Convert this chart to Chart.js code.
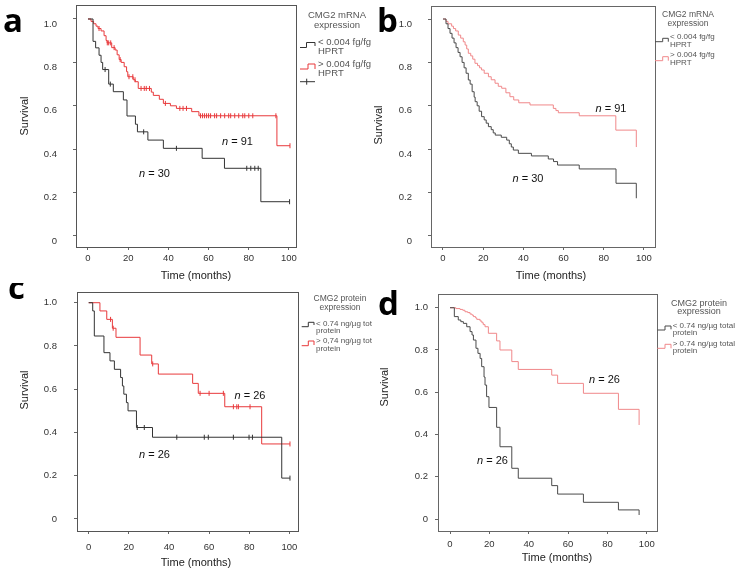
<!DOCTYPE html>
<html><head><meta charset="utf-8">
<script src="https://cdn.jsdelivr.net/npm/chart.js@4/dist/chart.umd.min.js"></script>
<style>
html,body{margin:0;padding:0;background:#fff;width:737px;height:572px;overflow:hidden;position:relative;}
canvas{position:absolute;display:block;}
</style></head><body>
<canvas id="ca" width="372" height="283" style="left:0;top:0;width:372px;height:283px"></canvas>
<canvas id="cb" width="365" height="283" style="left:372px;top:0;width:365px;height:283px"></canvas>
<canvas id="cc" width="372" height="289" style="left:0;top:283px;width:372px;height:289px"></canvas>
<canvas id="cd" width="365" height="289" style="left:372px;top:283px;width:365px;height:289px"></canvas>
<script>
// ---------- shared axis data ----------
const xTicks = [0, 20, 40, 60, 80, 100];
const yTicks = [0, 0.2, 0.4, 0.6, 0.8, 1.0];
const yTickLabels = ['0', '0.2', '0.4', '0.6', '0.8', '1.0'];
const xTitle = 'Time (months)';
const yTitle = 'Survival';

// ---------- panel a : CMG2 mRNA ----------
const aLowT  = [0, 2.5, 3.8, 5.5, 6.5, 7.3, 10.3, 12.6, 17.6, 19.4, 23.6, 24.6, 29.8, 37.5, 56.8, 67.9, 86, 100.3];
const aLowS  = [1, 0.897, 0.867, 0.833, 0.80, 0.767, 0.70, 0.665, 0.627, 0.553, 0.515, 0.48, 0.442, 0.404, 0.358, 0.312, 0.158, 0.158];
const aLowCens = [8.5, 11.1, 27.7, 44, 79, 81, 83, 84.7, 100.3];
const aHighT = [0, 1.5, 2.8, 4, 5, 6.5, 8, 9, 9.5, 11.8, 13.5, 14.5, 15.5, 16.5, 18, 19.2, 19.8, 22.5, 23.5, 25, 31.5, 32.5, 35.5, 37.5, 41, 44, 51.6, 55.2, 94, 100.5];
const aHighS = [1, 0.989, 0.978, 0.967, 0.956, 0.945, 0.923, 0.901, 0.89, 0.868, 0.857, 0.835, 0.813, 0.80, 0.78, 0.757, 0.734, 0.72, 0.711, 0.68, 0.663, 0.648, 0.63, 0.611, 0.60, 0.588, 0.573, 0.554, 0.416, 0.416];
const aHighCens = [5.5, 9.6, 10.3, 11.3, 13, 16, 20.4, 22.3, 23.4, 26.4, 28, 29, 30.6, 38.5, 45.7, 47.3, 49, 56, 57, 58, 59, 60, 61, 63, 64, 66, 68, 70, 71, 73, 75, 77, 78, 80, 82, 93.5, 100.5];
const aN = ['30', '91'];

// ---------- panel b : CMG2 mRNA ----------
const bLowT  = [0, 1.5, 2.5, 3.5, 4.5, 5.5, 6.5, 7.5, 8.5, 9.5, 10.5, 11.5, 12.6, 13.5, 14.5, 15.5, 16, 17, 18, 19.2, 20.5, 21.5, 22.6, 24, 25, 26, 29, 31.7, 33, 34, 35, 37.5, 44, 52.4, 55, 57, 67.8, 86.1, 96.2];
const bLowS  = [1, 0.978, 0.956, 0.934, 0.912, 0.89, 0.868, 0.846, 0.826, 0.80, 0.775, 0.75, 0.719, 0.70, 0.665, 0.64, 0.619, 0.60, 0.575, 0.55, 0.535, 0.52, 0.504, 0.49, 0.475, 0.465, 0.455, 0.442, 0.425, 0.41, 0.396, 0.381, 0.369, 0.355, 0.343, 0.327, 0.309, 0.243, 0.174];
const bHighT = [0, 1.5, 2.5, 4.3, 5.2, 6.3, 7.6, 8.8, 10.1, 11, 11.8, 12.6, 13.8, 14.8, 15.9, 17.2, 18.2, 19.2, 20.5, 22.6, 24, 25.9, 27.5, 29.2, 31.3, 33.3, 35.2, 37.7, 43.3, 54.9, 56.2, 57.4, 67.8, 86, 96.2];
const bHighS = [1, 0.989, 0.978, 0.967, 0.956, 0.945, 0.926, 0.912, 0.895, 0.88, 0.862, 0.842, 0.83, 0.815, 0.796, 0.785, 0.775, 0.765, 0.75, 0.734, 0.72, 0.704, 0.69, 0.681, 0.66, 0.642, 0.627, 0.614, 0.604, 0.588, 0.578, 0.568, 0.554, 0.488, 0.41];
const bN = ['30', '91'];

// ---------- panel c : CMG2 protein ----------
const cLowT  = [0, 2.0, 2.8, 7.6, 10.6, 12.8, 15.9, 16.8, 17.5, 18.8, 19.6, 23.8, 31.8, 96.2, 100.3];
const cLowS  = [1, 0.962, 0.846, 0.769, 0.731, 0.692, 0.654, 0.615, 0.577, 0.538, 0.50, 0.423, 0.378, 0.189, 0.189];
const cLowCens = [24.2, 27.7, 43.9, 57.6, 59.6, 72.1, 79.9, 81.6, 100.3];
const cHighT = [0, 5.6, 9.0, 11.8, 13.6, 25.6, 31.4, 34.7, 51.8, 54.6, 67.8, 86.2, 100.3];
const cHighS = [1, 0.962, 0.923, 0.882, 0.84, 0.758, 0.717, 0.67, 0.627, 0.581, 0.519, 0.347, 0.347];
const cHighCens = [10.9, 12.2, 31.9, 55.5, 60, 67.1, 72.1, 73.8, 74.6, 80.4, 100.3];
const cN = ['26', '26'];

// ---------- panel d : CMG2 protein ----------
const dLowT  = [0, 2.2, 4.2, 5.5, 6.8, 8.5, 10.2, 11.2, 11.9, 13.2, 14.2, 15.3, 16.1, 17.3, 17.8, 18.6, 19.8, 23.7, 25.4, 31.4, 34.7, 51.7, 54.7, 67.8, 85.6, 96.1];
const dLowS  = [1, 0.958, 0.942, 0.934, 0.926, 0.91, 0.887, 0.871, 0.847, 0.808, 0.784, 0.76, 0.721, 0.672, 0.634, 0.579, 0.528, 0.434, 0.342, 0.24, 0.193, 0.158, 0.118, 0.079, 0.043, 0.019];
const dHighT = [0, 3, 5.1, 6.5, 7.6, 9, 10.2, 11.2, 11.9, 13, 13.6, 15.3, 16.2, 16.9, 17.8, 19.5, 23.7, 25.4, 31.4, 34.7, 51.7, 54.7, 67.8, 85.6, 96.1];
const dHighS = [1, 0.996, 0.992, 0.988, 0.981, 0.977, 0.97, 0.965, 0.958, 0.952, 0.945, 0.937, 0.929, 0.92, 0.91, 0.879, 0.843, 0.80, 0.745, 0.708, 0.681, 0.642, 0.595, 0.519, 0.445];
const dN = ['26', '26'];

// ---------- legend texts ----------
const mrnaTitle = ['CMG2 mRNA', 'expression'];
const mrnaLow = ['< 0.004 fg/fg', 'HPRT'];
const mrnaHigh = ['> 0.004 fg/fg', 'HPRT'];
const protTitle = ['CMG2 protein', 'expression'];
const protLowC = ['< 0.74 ng/µg total', 'protein'];
const protHighC = ['> 0,74 ng/µg total', 'protein'];
const protLowD = ['< 0.74 ng/µg total', 'protein'];
const protHighD = ['> 0.74 ng/µg total', 'protein'];

const FONT = '"Liberation Sans", Arial, sans-serif';

function steps(T, S) { return T.map((t, i) => ({x: t, y: S[i]})); }
function survAt(T, S, t) { let s = S[0]; for (let i = 0; i < T.length; i++) { if (T[i] <= t) s = S[i]; } return s; }
function cens(T, S, C) { return C.map(t => ({x: t, y: survAt(T, S, t)})); }

const textPlugin = {
  id: 'panelText',
  afterDraw(chart, args, o) {
    const {ctx, chartArea: ca, scales: {x, y}} = chart;
    const ox = o.offX, oy = o.offY;
    ctx.save();
    // plot frame
    ctx.strokeStyle = o.boxColor; ctx.lineWidth = 1;
    ctx.strokeRect(Math.round(ca.left) + 0.5, Math.round(ca.top) + 0.5, Math.round(ca.right - ca.left), Math.round(ca.bottom - ca.top));
    // panel letter
    ctx.fillStyle = '#000'; ctx.font = 'bold 33px "Open Sans", sans-serif';
    ctx.textAlign = 'left'; ctx.textBaseline = 'alphabetic';
    ctx.fillText(o.letter, o.letterX - ox, o.letterY - oy);
    // axis titles
    ctx.fillStyle = '#222'; ctx.font = '11px ' + FONT; ctx.textAlign = 'center'; ctx.textBaseline = 'middle';
    ctx.fillText(xTitle, o.xTitleX - ox, o.xTitleY - oy);
    ctx.save(); ctx.translate(o.yTitleX - ox, o.yTitleY - oy); ctx.rotate(-Math.PI / 2);
    ctx.fillText(yTitle, 0, 0); ctx.restore();
    // n labels
    o.nLabels.forEach(l => {
      const cx = x.getPixelForValue(l.m), cy = y.getPixelForValue(l.s);
      ctx.font = 'italic 11px ' + FONT; const w1 = ctx.measureText('n').width;
      ctx.font = '11px ' + FONT; const rest = ' = ' + l.v; const w2 = ctx.measureText(rest).width;
      const x0 = cx - (w1 + w2) / 2;
      ctx.textAlign = 'left'; ctx.textBaseline = 'middle'; ctx.fillStyle = '#111';
      ctx.font = 'italic 11px ' + FONT; ctx.fillText('n', x0, cy);
      ctx.font = '11px ' + FONT; ctx.fillText(rest, x0 + w1, cy);
    });
    // legend
    const L = o.legend;
    ctx.fillStyle = '#555'; ctx.textAlign = 'center'; ctx.textBaseline = 'middle';
    ctx.font = L.titleSize + 'px ' + FONT;
    L.title.forEach((t, i) => ctx.fillText(t, L.titleX - ox, L.titleY[i] - oy));
    ctx.textAlign = 'left'; ctx.font = L.itemSize + 'px ' + FONT;
    L.items.forEach(it => {
      ctx.strokeStyle = it.color; ctx.lineWidth = 1; ctx.beginPath();
      it.icon.forEach((p, i) => { const px = p[0] - ox, py = p[1] - oy; if (i) ctx.lineTo(px, py); else ctx.moveTo(px, py); });
      ctx.stroke();
      ctx.fillStyle = '#555';
      it.lines.forEach((t, i) => ctx.fillText(t, it.tx - ox, it.ty[i] - oy));
    });
    if (L.censor) {
      const c = L.censor; ctx.strokeStyle = c.color; ctx.beginPath();
      ctx.moveTo(c.x0 - ox, c.y - oy); ctx.lineTo(c.x1 - ox, c.y - oy);
      ctx.moveTo(c.xm - ox, c.y - 3 - oy); ctx.lineTo(c.xm - ox, c.y + 3 - oy); ctx.stroke();
    }
    ctx.restore();
  }
};

function makePanel(id, P) {
  const datasets = [];
  P.curves.forEach(c => {
    datasets.push({type: 'line', data: steps(c.T, c.S), borderColor: c.color, borderWidth: 1, stepped: true, pointRadius: 0, fill: false});
    if (c.C) datasets.push({type: 'line', showLine: false, data: cens(c.T, c.S, c.C), borderColor: c.color, backgroundColor: c.color, pointStyle: 'line', rotation: 90, pointRadius: 2.5, borderWidth: 1});
  });
  const gridOpt = {display: true, drawOnChartArea: false, drawTicks: true, tickLength: 3, color: '#666', tickColor: '#666'};
  new Chart(document.getElementById(id), {
    type: 'line',
    data: {datasets},
    options: {
      responsive: false, animation: false, events: [],
      layout: {padding: {left: 0, top: P.padTop, right: P.padRight, bottom: 0}},
      plugins: {legend: {display: false}, tooltip: {enabled: false}, panelText: P.text},
      scales: {
        x: {type: 'linear', min: P.xMin, max: P.xMax,
            afterBuildTicks: s => { s.ticks = xTicks.map(v => ({value: v})); },
            afterFit: s => { s.height = P.xH; s.paddingLeft = 0; s.paddingRight = 0; s.paddingTop = 0; s.paddingBottom = 0; },
            grid: gridOpt, border: {display: false},
            ticks: {autoSkip: false, maxRotation: 0, padding: P.xPad, color: '#333', font: {family: FONT, size: 9.5}, callback: v => String(v)}},
        y: {type: 'linear', min: P.yMin, max: P.yMax,
            afterBuildTicks: s => { s.ticks = yTicks.map(v => ({value: v})); },
            afterFit: s => { s.width = P.yW; s.paddingLeft = 0; s.paddingRight = 0; s.paddingTop = 0; s.paddingBottom = 0; },
            grid: gridOpt, border: {display: false},
            ticks: {autoSkip: false, padding: P.yPad, labelOffset: P.yLabOff, color: '#333', font: {family: FONT, size: 9.5}, callback: (v, i) => yTickLabels[i]}}
      }
    },
    plugins: [textPlugin]
  });
}

const BLK = '#333', RED = '#e8393b', BLK2 = '#4a4a4a', PINK = '#f0888a';

makePanel('ca', {
  padTop: 5, padRight: 76, yW: 76, xH: 36, xMin: -5.97, xMax: 103.5, yMin: -0.0507, yMax: 1.0645,
  xPad: 3, yPad: 16, yLabOff: 5,
  curves: [{T: aLowT, S: aLowS, C: aLowCens, color: BLK}, {T: aHighT, S: aHighS, C: aHighCens, color: RED}],
  text: {offX: 0, offY: 0, boxColor: '#555', letter: 'a', letterX: 3, letterY: 32,
    xTitleX: 196, xTitleY: 276, yTitleX: 25, yTitleY: 116,
    nLabels: [{v: aN[0], m: 33.1, s: 0.286}, {v: aN[1], m: 74.4, s: 0.433}],
    legend: {title: mrnaTitle, titleX: 337, titleY: [15.7, 25.5], titleSize: 9.5, itemSize: 9.5,
      items: [
        {color: BLK, icon: [[300, 47.5], [306.5, 47.5], [306.5, 42.5], [315, 42.5], [315, 46]], lines: mrnaLow, tx: 318, ty: [42.7, 51.7]},
        {color: RED, icon: [[300, 69], [308, 69], [308, 64], [315, 64], [315, 69]], lines: mrnaHigh, tx: 318, ty: [64, 73.3]}],
      censor: {color: BLK, x0: 300, x1: 315, xm: 306.7, y: 81.7}}}
});

makePanel('cb', {
  padTop: 6, padRight: 82, yW: 59, xH: 36, xMin: -5.97, xMax: 105.5, yMin: -0.0507, yMax: 1.06,
  xPad: 3, yPad: 16, yLabOff: 5,
  curves: [{T: bLowT, S: bLowS, color: BLK2}, {T: bHighT, S: bHighS, color: PINK}],
  text: {offX: 372, offY: 0, boxColor: '#666', letter: 'b', letterX: 377, letterY: 32,
    xTitleX: 551, xTitleY: 276, yTitleX: 379, yTitleY: 125,
    nLabels: [{v: bN[0], m: 42.3, s: 0.263}, {v: bN[1], m: 83.6, s: 0.585}],
    legend: {title: mrnaTitle, titleX: 688, titleY: [15, 23.3], titleSize: 8.5, itemSize: 8,
      items: [
        {color: BLK2, icon: [[655, 41.7], [662.7, 41.7], [662.7, 38.3], [668.3, 38.3], [668.3, 41.7]], lines: mrnaLow, tx: 670, ty: [37, 45]},
        {color: PINK, icon: [[655, 60.7], [662.7, 60.7], [662.7, 56.7], [668.3, 56.7], [668.3, 60.7]], lines: mrnaHigh, tx: 670, ty: [55, 63]}]}}
});

makePanel('cc', {
  padTop: 9, padRight: 74, yW: 77, xH: 41, xMin: -5.83, xMax: 104.3, yMin: -0.0555, yMax: 1.0495,
  xPad: 7.5, yPad: 17, yLabOff: 0,
  curves: [{T: cLowT, S: cLowS, C: cLowCens, color: BLK}, {T: cHighT, S: cHighS, C: cHighCens, color: RED}],
  text: {offX: 0, offY: 283, boxColor: '#555', letter: 'c', letterX: 8, letterY: 299,
    xTitleX: 196, xTitleY: 563.3, yTitleX: 25, yTitleY: 390,
    nLabels: [{v: cN[0], m: 32.8, s: 0.296}, {v: cN[1], m: 80.4, s: 0.569}],
    legend: {title: protTitle, titleX: 340, titleY: [299, 307.7], titleSize: 8.5, itemSize: 8,
      items: [
        {color: BLK, icon: [[301.7, 326.7], [308.3, 326.7], [308.3, 322.3], [314, 322.3], [314, 325]], lines: protLowC, tx: 316, ty: [324, 330.7]},
        {color: RED, icon: [[301.7, 345.7], [308.3, 345.7], [308.3, 341], [314, 341], [314, 345]], lines: protHighC, tx: 316, ty: [341, 349]}]}}
});

makePanel('cd', {
  padTop: 11, padRight: 80, yW: 66, xH: 41, xMin: -6.1, xMax: 105.2, yMin: -0.0568, yMax: 1.065,
  xPad: 5, yPad: 7, yLabOff: 0,
  curves: [{T: dLowT, S: dLowS, color: BLK2}, {T: dHighT, S: dHighS, color: PINK}],
  text: {offX: 372, offY: 283, boxColor: '#666', letter: 'd', letterX: 378, letterY: 315,
    xTitleX: 557, xTitleY: 557.7, yTitleX: 385, yTitleY: 387,
    nLabels: [{v: dN[0], m: 21.6, s: 0.274}, {v: dN[1], m: 78.5, s: 0.658}],
    legend: {title: protTitle, titleX: 699, titleY: [304, 312], titleSize: 9, itemSize: 8,
      items: [
        {color: BLK2, icon: [[657.3, 330], [665, 330], [665, 326], [671, 326], [671, 329.3]], lines: protLowD, tx: 672.7, ty: [326, 333]},
        {color: PINK, icon: [[657.3, 348.3], [665, 348.3], [665, 344.3], [671, 344.3], [671, 348.3]], lines: protHighD, tx: 672.7, ty: [344, 351]}]}}
});
</script>
</body></html>
